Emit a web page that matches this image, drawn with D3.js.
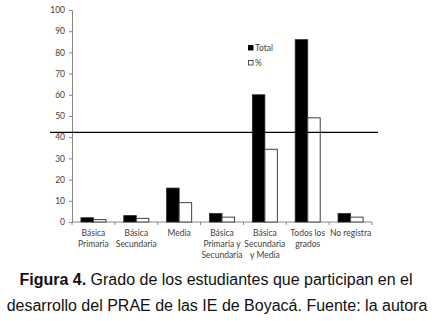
<!DOCTYPE html>
<html><head><meta charset="utf-8">
<script src="https://cdn.jsdelivr.net/npm/d3@7"></script>
<style>
body{margin:0;background:#fff;}
svg{display:block;}
</style></head>
<body>
<svg id="c" width="432" height="321"></svg>
<script>
const categories = [["Básica","Primaria"],["Básica","Secundaria"],["Media"],["Básica","Primaria y","Secundaria"],["Básica","Secundaria","y Media"],["Todos los","grados"],["No registra"]];
const totalValues = [2, 3, 16, 4, 60, 86, 4];
const pctValues = [1.14, 1.71, 9.14, 2.29, 34.29, 49.14, 2.29];
const yTicks = [0,10,20,30,40,50,60,70,80,90,100];
const refLine = 42.3;
const seriesNames = ["Total","%"];

const svg = d3.select("#c");
const font = "Lato, 'Open Sans', sans-serif";
const x0 = 72, x1 = 372, yTop = 10, yBot = 222;
const x = d3.scaleBand().domain(d3.range(categories.length)).range([x0, x1]).paddingInner(0).paddingOuter(0);
const y = d3.scaleLinear().domain([0,100]).range([yBot, yTop]);
const xs = d3.scaleBand().domain([0,1]).range([0, 25]);
const groupOff = (x.bandwidth() - 25)/2;

// y axis
const ya = svg.append("g").attr("transform", `translate(${x0},0)`)
  .call(d3.axisLeft(y).tickValues(yTicks).tickSize(3).tickPadding(4));
ya.select(".domain").attr("stroke","#868686");
ya.selectAll(".tick line").attr("stroke","#868686");
ya.selectAll(".tick text").attr("fill","#404040").style("font-family",font).style("font-size","8.5px");

// x axis
const xa = svg.append("g").attr("transform", `translate(0,${yBot})`);
xa.append("line").attr("x1",x0).attr("x2",x1).attr("stroke","#868686");
xa.selectAll("line.t").data(d3.range(categories.length+1)).join("line").attr("class","t")
  .attr("x1",i=>x0 + i*x.step()).attr("x2",i=>x0 + i*x.step()).attr("y1",0).attr("y2",3).attr("stroke","#868686");
const lbl = xa.selectAll("text").data(categories).join("text")
  .attr("x",(d,i)=>x(i)+x.bandwidth()/2).attr("y",14)
  .attr("text-anchor","middle").attr("fill","#404040")
  .style("font-family",font).style("font-size","8.5px");
lbl.selectAll("tspan").data(d=>d).join("tspan")
  .attr("x",function(){return this.parentNode.getAttribute("x");})
  .attr("dy",(d,i)=>i===0?0:11).text(d=>d);

// bars
const g = svg.append("g");
g.selectAll("rect.tot").data(totalValues).join("rect").attr("class","tot")
  .attr("x",(d,i)=>x(i)+groupOff+xs(0)).attr("width",xs.bandwidth())
  .attr("y",d=>y(d)).attr("height",d=>yBot-y(d))
  .attr("fill","#000").attr("stroke","#222").attr("stroke-width",0.8);
g.selectAll("rect.pct").data(pctValues).join("rect").attr("class","pct")
  .attr("x",(d,i)=>x(i)+groupOff+xs(1)).attr("width",xs.bandwidth())
  .attr("y",d=>y(d)).attr("height",d=>yBot-y(d))
  .attr("fill","#fff").attr("stroke","#404040").attr("stroke-width",1);

// reference line
svg.append("line").attr("x1",50).attr("x2",378).attr("y1",y(refLine)).attr("y2",y(refLine))
  .attr("stroke","#000").attr("stroke-width",1.3);

// legend
const lg = svg.append("g");
seriesNames.forEach((n,i)=>{
  const yy = 48 + i*15;
  lg.append("rect").attr("x",248.5).attr("y",yy-2.5).attr("width",4.5).attr("height",4.5)
    .attr("fill", i===0?"#000":"#fff").attr("stroke", i===0?"#000":"#404040").attr("stroke-width",0.9);
  lg.append("text").attr("x",255).attr("y",yy+3).text(n).attr("fill","#404040")
    .style("font-family",font).style("font-size","8.5px");
});

// caption
const cap = svg.append("text").attr("x",216).attr("y",285).attr("text-anchor","middle")
  .style("font-family","'Liberation Sans', Arial, sans-serif").style("font-size","16px").attr("fill","#111");
cap.append("tspan").style("font-weight","bold").text("Figura 4.");
cap.append("tspan").text(" Grado de los estudiantes que participan en el");
svg.append("text").attr("x",217).attr("y",311).attr("text-anchor","middle")
  .style("font-family","'Liberation Sans', Arial, sans-serif").style("font-size","16px").attr("fill","#111")
  .text("desarrollo del PRAE de las IE de Boyacá. Fuente: la autora");
</script>
</body></html>
